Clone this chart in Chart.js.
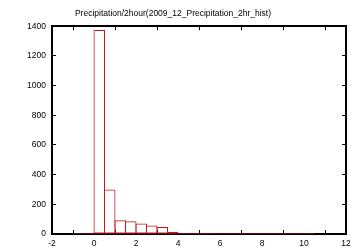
<!DOCTYPE html>
<html>
<head>
<meta charset="utf-8">
<script src="https://cdn.jsdelivr.net/npm/chart.js@4"></script>
<style>
  html, body { margin: 0; padding: 0; background: #fff; }
  #wrap { width: 360px; height: 252px; }
</style>
</head>
<body>
<div id="wrap"><canvas id="chart"></canvas></div>
<script>
// histogram bins (centers, width 0.5) and counts
const BIN_CENTERS = [-0.75, -0.25, 0.25, 0.75, 1.25, 1.75, 2.25, 2.75, 3.25, 3.75, 4.25, 4.75, 5.25,
    5.75, 6.25, 6.75, 7.25, 7.75, 8.25, 8.75, 9.25, 9.75, 10.25];
const COUNTS = [0, 0, 1375, 300, 93, 86, 70, 57, 47, 16, 1, 7, 7,
    1, 0, 0, 0, 0, 0, 0, 0, 0, 0];
const X_TICKS = [-2, 0, 2, 4, 6, 8, 10, 12];
const Y_TICKS = [0, 200, 400, 600, 800, 1000, 1200, 1400];
const TITLE = "Precipitation/2hour(2009_12_Precipitation_2hr_hist)";

const RED = "#c8161e";
const FONT = { family: "Liberation Sans", size: 8.5 };

// the empty bins still show as a red line along the baseline
const BASELINE = [
    { x: BIN_CENTERS[0] - 0.25, y: 0 },
    { x: BIN_CENTERS[BIN_CENTERS.length - 1] + 0.25, y: 0 }
];

// gnuplot look: black frame, short ticks pointing inwards
function frameAxis(extra) {
    return Object.assign({
        grid: { display: true, drawOnChartArea: false, drawTicks: true,
            tickLength: -4, color: "#000", lineWidth: 1 },
        border: { display: true, color: "#000", width: 2 }
    }, extra);
}

new Chart(document.getElementById("chart").getContext("2d"), {
    type: "bar",
    data: {
        datasets: [{
            data: BIN_CENTERS.map((x, i) => ({ x: x, y: COUNTS[i] })),
            backgroundColor: "rgba(0,0,0,0)",
            borderColor: RED,
            borderWidth: 1,
            borderSkipped: false,
            barPercentage: 11.5 / 10.5,
            categoryPercentage: 1,
            grouped: false
        }, {
            type: "line",
            data: BASELINE,
            borderColor: RED,
            borderWidth: 1,
            pointRadius: 0
        }]
    },
    options: {
        responsive: true,
        maintainAspectRatio: false,
        animation: false,
        layout: { padding: { left: 0, right: 14, top: 0, bottom: 0 } },
        plugins: {
            legend: { display: false },
            tooltip: { enabled: false },
            title: {
                display: true,
                text: TITLE,
                color: "#000",
                font: { family: "Liberation Sans", size: 8.5, weight: "normal" },
                padding: { top: 9, bottom: 7 }
            }
        },
        scales: {
            x: frameAxis({
                type: "linear",
                position: "bottom",
                min: -2,
                max: 12,
                offset: false,
                afterBuildTicks: s => { s.ticks = X_TICKS.map(v => ({ value: v })); },
                afterFit: s => { s.height = 18; },
                ticks: { color: "#000", font: FONT, padding: 9, maxRotation: 0,
                    callback: v => String(v) }
            }),
            x2: frameAxis({
                type: "linear",
                position: "top",
                min: -2,
                max: 12,
                offset: false,
                afterBuildTicks: s => { s.ticks = X_TICKS.map(v => ({ value: v })); },
                afterFit: s => { s.height = 0; },
                ticks: { display: false }
            }),
            y: frameAxis({
                position: "left",
                min: 0,
                max: 1400,
                afterBuildTicks: s => { s.ticks = Y_TICKS.map(v => ({ value: v })); },
                afterFit: s => { s.width = 52; },
                ticks: { color: "#000", font: FONT, padding: 10,
                    callback: v => String(v) }
            }),
            y2: frameAxis({
                type: "linear",
                position: "right",
                min: 0,
                max: 1400,
                afterBuildTicks: s => { s.ticks = Y_TICKS.map(v => ({ value: v })); },
                afterFit: s => { s.width = 0; },
                ticks: { display: false }
            })
        }
    }
});
</script>
</body>
</html>
